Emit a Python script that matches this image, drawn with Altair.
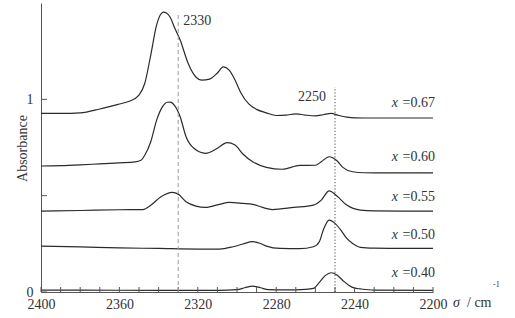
import altair as alt
import pandas as pd

# ---- data ----
sig_067 = [2400, 2390, 2380, 2370, 2360, 2355, 2350, 2347, 2344, 2341, 2339, 2337.5, 2336, 2334,
           2332, 2329, 2325, 2321, 2318, 2314, 2310, 2307, 2304, 2301, 2298, 2294, 2290, 2285,
           2280, 2275, 2270, 2265, 2260, 2256, 2252, 2248, 2244, 2240, 2230, 2220, 2210, 2200]
abs_067 = [0.927, 0.927, 0.930, 0.950, 0.976, 0.990, 1.022, 1.085, 1.230, 1.386, 1.440, 1.453,
           1.448, 1.425, 1.375, 1.308, 1.189, 1.116, 1.100, 1.105, 1.137, 1.168, 1.152, 1.100,
           1.033, 0.976, 0.948, 0.930, 0.916, 0.918, 0.925, 0.918, 0.914, 0.920, 0.927, 0.916,
           0.908, 0.904, 0.903, 0.903, 0.903, 0.903]

sig_060 = [2400, 2390, 2380, 2370, 2360, 2352, 2349, 2347, 2344, 2341, 2338, 2335.5, 2334, 2332,
           2329, 2326, 2322, 2316, 2310, 2305, 2301, 2297, 2292, 2285, 2277, 2268, 2260, 2257,
           2253, 2249, 2246, 2241, 2235, 2225, 2210, 2200]
abs_060 = [0.654, 0.656, 0.660, 0.665, 0.670, 0.675, 0.684, 0.711, 0.780, 0.892, 0.962, 0.985,
           0.986, 0.970, 0.910, 0.806, 0.746, 0.720, 0.746, 0.775, 0.763, 0.716, 0.676, 0.647,
           0.637, 0.657, 0.658, 0.676, 0.702, 0.681, 0.647, 0.624, 0.619, 0.618, 0.618, 0.618]

sig_055 = [2400, 2380, 2360, 2348, 2344, 2339, 2333, 2330, 2326, 2321, 2316, 2309, 2304, 2297,
           2292, 2287, 2282, 2271, 2261, 2257, 2253, 2249, 2244, 2237, 2230, 2215, 2200]
abs_055 = [0.420, 0.423, 0.427, 0.428, 0.450, 0.493, 0.517, 0.508, 0.468, 0.446, 0.439, 0.455,
           0.465, 0.460, 0.455, 0.439, 0.428, 0.439, 0.451, 0.477, 0.525, 0.498, 0.451, 0.425,
           0.421, 0.420, 0.420]

sig_050 = [2400, 2380, 2360, 2340, 2320, 2309, 2302, 2297, 2292, 2288, 2285, 2278, 2268, 2261,
           2258, 2256, 2253, 2250, 2247, 2244, 2241, 2237, 2230, 2215, 2200]
abs_050 = [0.238, 0.234, 0.229, 0.226, 0.223, 0.223, 0.235, 0.249, 0.261, 0.252, 0.238, 0.226,
           0.225, 0.235, 0.261, 0.321, 0.373, 0.356, 0.321, 0.278, 0.252, 0.232, 0.228, 0.226,
           0.226]

sig_040 = [2400, 2380, 2340, 2310, 2300, 2296, 2292, 2288, 2284, 2275, 2265, 2261, 2258, 2255,
           2252, 2249, 2246, 2243, 2240, 2237, 2230, 2200]
abs_040 = [0.010, 0.010, 0.008, 0.008, 0.012, 0.022, 0.030, 0.022, 0.012, 0.011, 0.014, 0.019,
           0.050, 0.085, 0.100, 0.088, 0.060, 0.035, 0.020, 0.016, 0.010, 0.008]

series_names = ["0.67", "0.60", "0.55", "0.50", "0.40"]
label_y = [0.979, 0.699, 0.495, 0.296, 0.097]
label_eq = [" =0.67", "=0.60", "=0.55", "=0.50", "=0.40"]

x_tick_labels = [2400, 2360, 2320, 2280, 2240, 2200]
x_minor_ticks = list(range(2200, 2401, 10))
y_tick_labels = [0, 1]
y_minor_ticks = [0, 0.5, 1]

ref_sigma = [2330, 2250]
ref_text = ["2330", "2250"]

# ---- build tables ----
rows = []
for name, s, a in zip(series_names,
                      [sig_067, sig_060, sig_055, sig_050, sig_040],
                      [abs_067, abs_060, abs_055, abs_050, abs_040]):
    for si, ai in zip(s, a):
        rows.append({"series": name, "sigma": si, "A": ai})
df = pd.DataFrame(rows)

FONT = "Liberation Serif"
W, H = 392, 289

xs = alt.Scale(domain=[2200, 2400], reverse=True, nice=False)
ys = alt.Scale(domain=[0, 1.5], nice=False)

x_axis = alt.Axis(values=x_tick_labels, ticks=False, grid=False, title=None,
                  labelFont=FONT, labelFontSize=14, labelColor="#333", labelPadding=5,
                  labelFlush=False, labelOverlap=False, domainColor="#555", format="d")
y_axis = alt.Axis(values=y_tick_labels, ticks=False, grid=False, title="Absorbance",
                  labelFont=FONT, labelFontSize=14, labelColor="#333", labelPadding=8,
                  labelFlush=False, domainColor="#555", format="d",
                  titleFont=FONT, titleFontSize=14, titleFontWeight="normal", titleColor="#333",
                  titleAngle=270, titleAlign="center", titleBaseline="middle",
                  titleX=-19, titleY=145)

lines = alt.Chart(df).mark_line(color="#2b2b2b", strokeWidth=1.2, interpolate="monotone").encode(
    x=alt.X("sigma:Q", scale=xs, axis=x_axis),
    y=alt.Y("A:Q", scale=ys, axis=y_axis),
    detail="series:N",
)

# inward ticks
xt = alt.Chart(pd.DataFrame({"t": x_minor_ticks})).mark_rule(color="#555", strokeWidth=1).encode(
    x=alt.X("t:Q", scale=xs), y=alt.value(H), y2=alt.value(H - 5))
yt = alt.Chart(pd.DataFrame({"t": y_minor_ticks})).mark_rule(color="#555", strokeWidth=1).encode(
    y=alt.Y("t:Q", scale=ys), x=alt.value(0), x2=alt.value(6))

# reference lines
ref_df = pd.DataFrame({"s": ref_sigma, "zero": [0.0, 0.0], "top": [1.453, 1.064],
                       "text": ref_text, "ty": [1.405, 1.014]})
dash = alt.Chart(ref_df.iloc[[0]]).mark_rule(color="#9a9a9a", strokeWidth=1, strokeDash=[4, 3]).encode(
    x=alt.X("s:Q", scale=xs), y=alt.Y("zero:Q", scale=ys), y2="top:Q")
dot = alt.Chart(ref_df.iloc[[1]]).mark_rule(color="#444", strokeWidth=1, strokeDash=[1.2, 2]).encode(
    x=alt.X("s:Q", scale=xs), y=alt.Y("zero:Q", scale=ys), y2="top:Q")
t2330 = alt.Chart(ref_df.iloc[[0]]).mark_text(font=FONT, fontSize=14, color="#333", align="left",
                                              baseline="middle", dx=5).encode(
    x=alt.X("s:Q", scale=xs), y=alt.Y("ty:Q", scale=ys), text="text:N")
t2250 = alt.Chart(ref_df.iloc[[1]]).mark_text(font=FONT, fontSize=14, color="#333", align="right",
                                              baseline="middle", dx=-9).encode(
    x=alt.X("s:Q", scale=xs), y=alt.Y("ty:Q", scale=ys), text="text:N")

# series labels
lab_df = pd.DataFrame({"y": label_y, "eq": label_eq, "xx": ["x"] * 5,
                       "s": [2200] * 5})
lab_eq = alt.Chart(lab_df).mark_text(font=FONT, fontSize=14, color="#333", align="right",
                                     baseline="middle", dx=2).encode(
    x=alt.X("s:Q", scale=xs), y=alt.Y("y:Q", scale=ys), text="eq:N")
lab_x = alt.Chart(lab_df).mark_text(font=FONT, fontSize=14, color="#333", align="right",
                                    baseline="middle", fontStyle="italic", dx=-35).encode(
    x=alt.X("s:Q", scale=xs), y=alt.Y("y:Q", scale=ys), text="xx:N")

# x-axis title: sigma / cm^-1
tsig = alt.Chart(pd.DataFrame({"a": ["σ"]})).mark_text(
    font=FONT, fontSize=14, color="#333", align="left", baseline="alphabetic",
    fontStyle="italic").encode(x=alt.value(412), y=alt.value(304), text="a:N")
tcm = alt.Chart(pd.DataFrame({"b": ["/ cm"]})).mark_text(
    font=FONT, fontSize=14, color="#333", align="left", baseline="alphabetic").encode(
    x=alt.value(426), y=alt.value(304), text="b:N")
tsup = alt.Chart(pd.DataFrame({"c": ["-1"]})).mark_text(
    font=FONT, fontSize=8, color="#333", align="left", baseline="alphabetic").encode(
    x=alt.value(452), y=alt.value(284), text="c:N")

chart = alt.layer(lines, xt, yt, dash, dot, t2330, t2250, lab_eq, lab_x, tsig, tcm, tsup).properties(
    width=W, height=H,
    autosize=alt.AutoSizeParams(type="none"),
    padding={"left": 41, "top": 3, "right": 82, "bottom": 26},
    background="white",
).configure_view(strokeWidth=0)

chart.save("out.html", embed_options={"renderer": "svg", "actions": False})
